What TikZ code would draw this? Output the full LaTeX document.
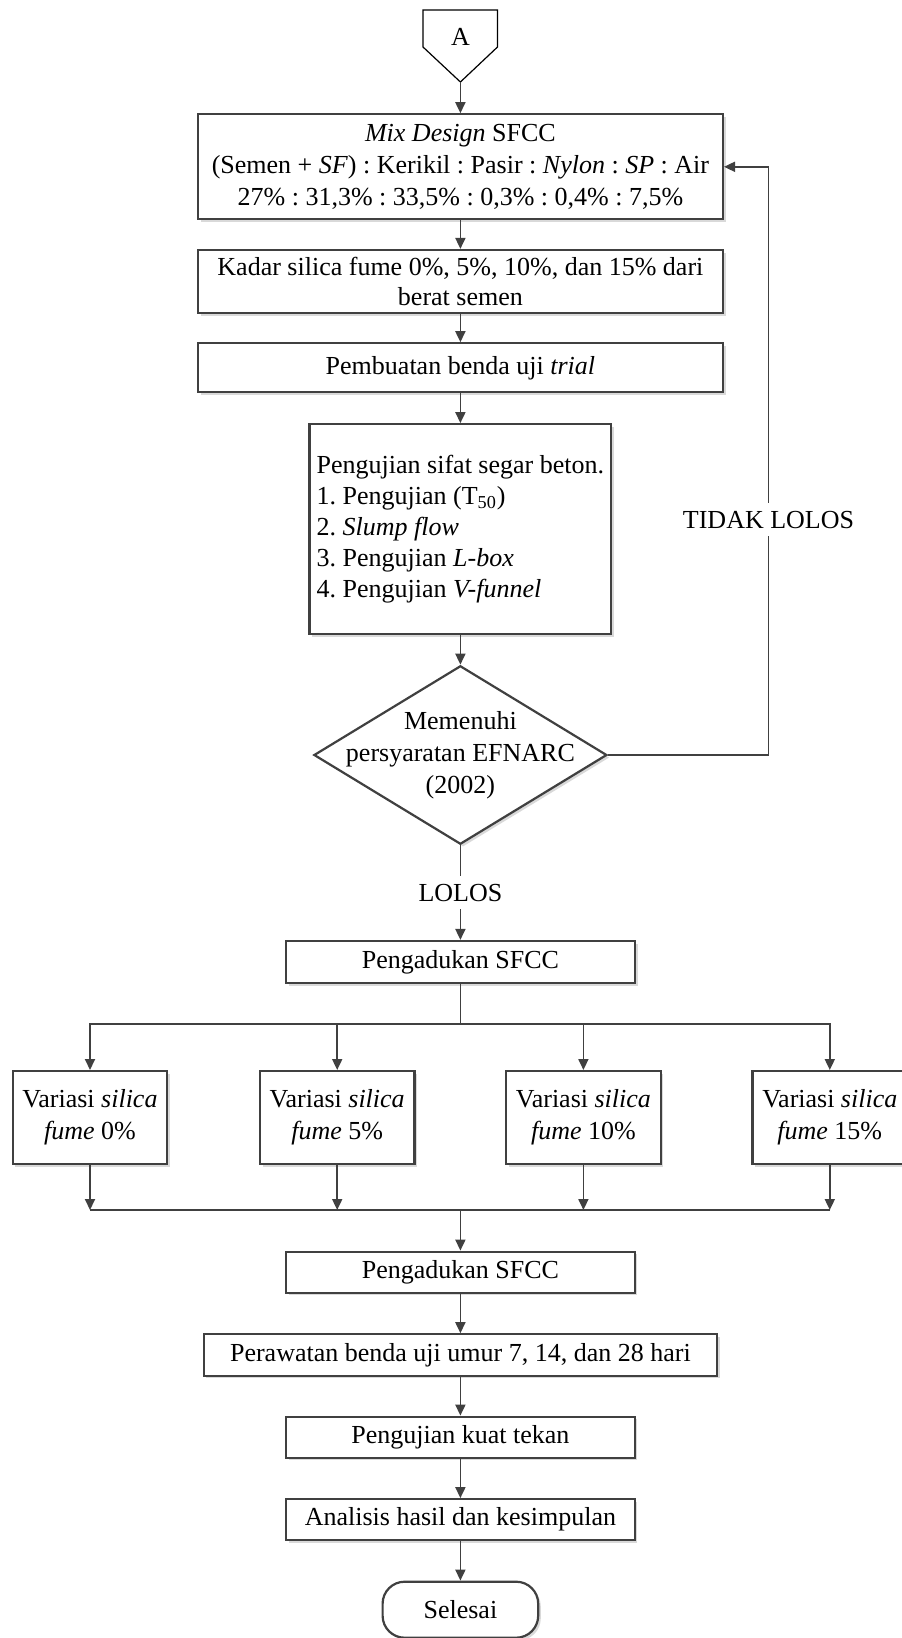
\documentclass[tikz,border=0pt]{standalone}
\usepackage{fontspec}
\setmainfont{Liberation Serif}
\usetikzlibrary{arrows.meta,positioning,shapes.geometric,shadows}
\definecolor{stroke}{HTML}{404040}
\definecolor{shade}{HTML}{D9D9D9}

\begin{document}
\frenchspacing
\begin{tikzpicture}[x=0.5pt,y=-0.5pt,
  every node/.style={font=\fontsize{13}{16}\selectfont},
  box/.style={draw=stroke,line width=1.1pt,fill=white,align=center,inner sep=2pt,
              drop shadow={shadow xshift=1.3pt,shadow yshift=-1.3pt,fill=shade,opacity=1}},
  decision/.style={box,diamond,inner sep=0pt},
  terminal/.style={box,rounded corners=11pt},
  flow/.style={draw=stroke,line width=0.9pt,-{Triangle[length=5.5pt,width=5pt]}},
  link/.style={draw=stroke,line width=0.9pt},
  tag/.style={fill=white,inner xsep=1pt,inner ysep=4pt}]
  \useasboundingbox (0,0) rectangle (901,1638);

  % off-page connector
  \draw[stroke,line width=0.6pt,fill=white] (423,10) -- (497.5,10) -- (497.5,47)
       -- (460.4,82) -- (423,47) -- cycle;
  \node (A) at (460.4,37) {A};
  \coordinate (Atip) at (460.4,82);

  % trial mix
  \node[box,minimum width=262.5pt,minimum height=52.5pt] (mix) at (460.4,166.8)
       {\textit{Mix Design} SFCC\\(Semen + \textit{SF}) : Kerikil : Pasir : \textit{Nylon} : \textit{SP} : Air\\
        27\% : 31,3\% : 33,5\% : 0,3\% : 0,4\% : 7,5\%};
  \node[box,minimum width=262.5pt,minimum height=31.5pt,font=\fontsize{13}{15}\selectfont]
       (kadar) at (460.4,281.5) {Kadar silica fume 0\%, 5\%, 10\%, dan 15\% dari\\berat semen};
  \node[box,minimum width=262.5pt,minimum height=24.5pt] (buat) at (460.4,367.8)
       {Pembuatan benda uji \textit{trial}};
  \node[box,minimum width=150.85pt,minimum height=105pt,align=left,font=\fontsize{13}{15.5}\selectfont]
       (uji) at (460.4,529.2) {Pengujian sifat segar beton.\\1. Pengujian (T\textsubscript{50})\\
        2. \textit{Slump flow}\\3. Pengujian \textit{L-box}\\4. Pengujian \textit{V-funnel}};
  \node[decision,minimum width=146.5pt,minimum height=89.25pt,
        label={[align=center]center:Memenuhi\\persyaratan EFNARC\\(2002)}] (cek) at (460.4,755) {};

  \draw[flow] (Atip) -- (mix.north);
  \draw[flow] (mix.south) -- (kadar.north);
  \draw[flow] (kadar.south) -- (buat.north);
  \draw[flow] (buat.south) -- (uji.north);
  \draw[flow] (uji.south) -- (cek.north);

  % back to the mix when the test fails
  \coordinate (back) at (768.5,755);
  \draw[flow] (cek.east) -- (back) |- (mix.east) node[pos=0.2,tag,inner xsep=0pt] {TIDAK LOLOS};

  % mixing and the four variations
  \node[box,minimum width=174.5pt,minimum height=21pt] (peng1) at (460.4,962) {Pengadukan SFCC};
  \draw[flow] (cek.south) -- (peng1.north) node[midway,tag] {LOLOS};

  \foreach \n/\x/\p in {1/90/0,2/337.2/5,3/583.4/10,4/829.8/15}
    \node[box,minimum width=77.3pt,minimum height=46.6pt] (var\n) at (\x,1117.7)
         {Variasi \textit{silica}\\\textit{fume} \p\%};

  \coordinate (split) at (460.4,1024.3);
  \coordinate (join) at (460.4,1210);
  \draw[link] (peng1.south) -- (split);
  \foreach \n in {1,...,4}{
    \draw[flow] (split) -| (var\n.north);
    \draw[flow] (var\n.south) -- (var\n.south |- join);
  }
  \draw[link] (var1.south |- join) -- (var4.south |- join);

  % curing, testing, analysis
  \node[box,minimum width=174.3pt,minimum height=20.5pt] (aduk) at (460.4,1272.2) {Pengadukan SFCC};
  \node[box,minimum width=256.6pt,minimum height=20.7pt] (rawat) at (460.4,1355)
       {Perawatan benda uji umur 7, 14, dan 28 hari};
  \node[box,minimum width=174.3pt,minimum height=20.5pt] (tekan) at (460.4,1437.2) {Pengujian kuat tekan};
  \node[box,minimum width=174.3pt,minimum height=20.5pt] (hasil) at (460.4,1519.7)
       {Analisis hasil dan kesimpulan};
  \node[terminal,minimum width=77.8pt,minimum height=28pt] (selesai) at (460.4,1609.7) {Selesai};

  \draw[flow] (join) -- (aduk.north);
  \draw[flow] (aduk.south) -- (rawat.north);
  \draw[flow] (rawat.south) -- (tekan.north);
  \draw[flow] (tekan.south) -- (hasil.north);
  \draw[flow] (hasil.south) -- (selesai.north);
\end{tikzpicture}
\end{document}
